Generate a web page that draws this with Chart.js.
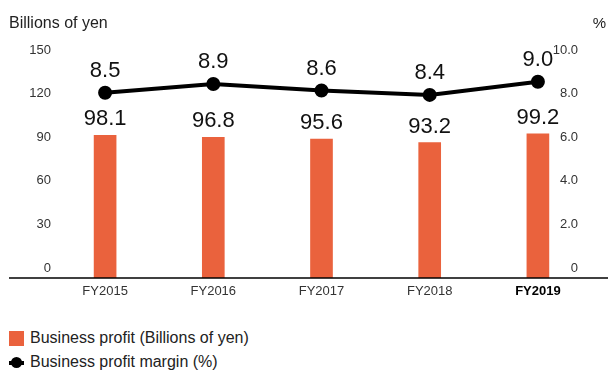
<!DOCTYPE html>
<html>
<head>
<meta charset="utf-8">
<script src="https://cdn.jsdelivr.net/npm/chart.js@4.4.1/dist/chart.umd.min.js"></script>
<style>
  body { margin: 0; background: #fff; font-family: "Liberation Sans", Arial, sans-serif; }
  #wrap { position: relative; width: 608px; height: 310px; }
  #legend { position: absolute; left: 9px; top: 326px; font-size: 16px; color: #222; }
  .item { height: 24px; line-height: 24px; display: flex; align-items: center; }
  .sq { width: 15px; height: 15px; background: #ea623d; margin-right: 6px; }
  .ln { position: relative; width: 15px; height: 15px; margin-right: 6px; }
  .ln::before { content: ""; position: absolute; left: 0; right: 0; top: 6px; height: 4px; background: #000; }
  .ln::after { content: ""; position: absolute; left: 2px; top: 2px; width: 11px; height: 11px; border-radius: 50%; background: #000; }
</style>
</head>
<body>
<div id="wrap"><canvas id="chart"></canvas></div>
<div id="legend">
  <div class="item"><span class="sq"></span>Business profit (Billions of yen)</div>
  <div class="item"><span class="ln"></span>Business profit margin (%)</div>
</div>
<script>
// data
var categories = ["FY2015", "FY2016", "FY2017", "FY2018", "FY2019"];
var profit = [98.1, 96.8, 95.6, 93.2, 99.2];
var margin = [8.5, 8.9, 8.6, 8.4, 9.0];
var leftTicks = [0, 30, 60, 90, 120, 150];
var rightTicks = [0, 2, 4, 6, 8, 10];

var FONT = "'Liberation Sans', Arial, sans-serif";

// labels above bars and points, unit captions, baseline
var extras = {
  id: "extras",
  afterDatasetsDraw: function (chart) {
    var c = chart.ctx;
    c.save();
    c.fillStyle = "#111";
    c.font = "22px " + FONT;
    c.textAlign = "center";
    c.textBaseline = "middle";
    chart.getDatasetMeta(1).data.forEach(function (bar, i) {
      c.fillText(profit[i].toFixed(1), bar.x, bar.y - 16);
    });
    chart.getDatasetMeta(0).data.forEach(function (pt, i) {
      c.fillText(margin[i].toFixed(1), pt.x, pt.y - 22);
    });

    // baseline
    var yb = chart.scales.y.getPixelForValue(0);
    c.strokeStyle = "#000";
    c.lineWidth = 1.5;
    c.beginPath();
    c.moveTo(9, yb);
    c.lineTo(608, yb);
    c.stroke();

    // unit captions
    c.fillStyle = "#222";
    c.font = "16px " + FONT;
    c.textAlign = "left";
    c.fillText("Billions of yen", 9, 24);
    c.textAlign = "right";
    c.font = "15px " + FONT;
    c.fillText("%", 606, 24);
    c.restore();
  }
};

var ctx = document.getElementById("chart").getContext("2d");
var chart = new Chart(ctx, {
  type: "bar",
  data: {
    labels: categories,
    datasets: [
      {
        type: "line",
        label: "Business profit margin (%)",
        data: margin,
        yAxisID: "y1",
        borderColor: "#000",
        backgroundColor: "#000",
        borderWidth: 4,
        pointRadius: 5,
        pointHoverRadius: 5,
        tension: 0,
        order: 0
      },
      {
        type: "bar",
        label: "Business profit (Billions of yen)",
        data: profit,
        yAxisID: "y",
        backgroundColor: "#ea623d",
        barThickness: 22,
        order: 1
      }
    ]
  },
  options: {
    responsive: true,
    maintainAspectRatio: false,
    animation: false,
    layout: { padding: { top: 60, left: 0, right: 0, bottom: 0 } },
    plugins: {
      legend: { display: false },
      tooltip: { enabled: false }
    },
    scales: {
      x: {
        grid: { display: false, drawTicks: false },
        border: { display: false },
        ticks: {
          padding: 6,
          color: function (c) { return c.index === 4 ? "#000" : "#333"; },
          font: function (c) {
            return { family: FONT, size: 13, weight: c.index === 4 ? "bold" : "normal" };
          }
        },
        afterFit: function (axis) { axis.height = 32; }
      },
      y: {
        position: "left",
        min: 0,
        max: 150,
        grid: { display: false, drawTicks: false },
        border: { display: false },
        afterBuildTicks: function (axis) {
          axis.ticks = leftTicks.map(function (v) { return { value: v }; });
        },
        ticks: {
          padding: 0,
          labelOffset: -10,
          color: "#333",
          font: { family: FONT, size: 13 }
        },
        afterFit: function (axis) { axis.width = 51; }
      },
      y1: {
        position: "right",
        min: 0,
        max: 10,
        grid: { display: false, drawTicks: false },
        border: { display: false },
        afterBuildTicks: function (axis) {
          axis.ticks = rightTicks.map(function (v) { return { value: v }; });
        },
        ticks: {
          mirror: true,
          padding: -14,
          labelOffset: -10,
          color: "#333",
          font: { family: FONT, size: 13 },
          callback: function (v) { return v === 0 ? "0" : v.toFixed(1); }
        },
        afterFit: function (axis) { axis.width = 16; }
      }
    }
  },
  plugins: [extras]
});
</script>
</body>
</html>
